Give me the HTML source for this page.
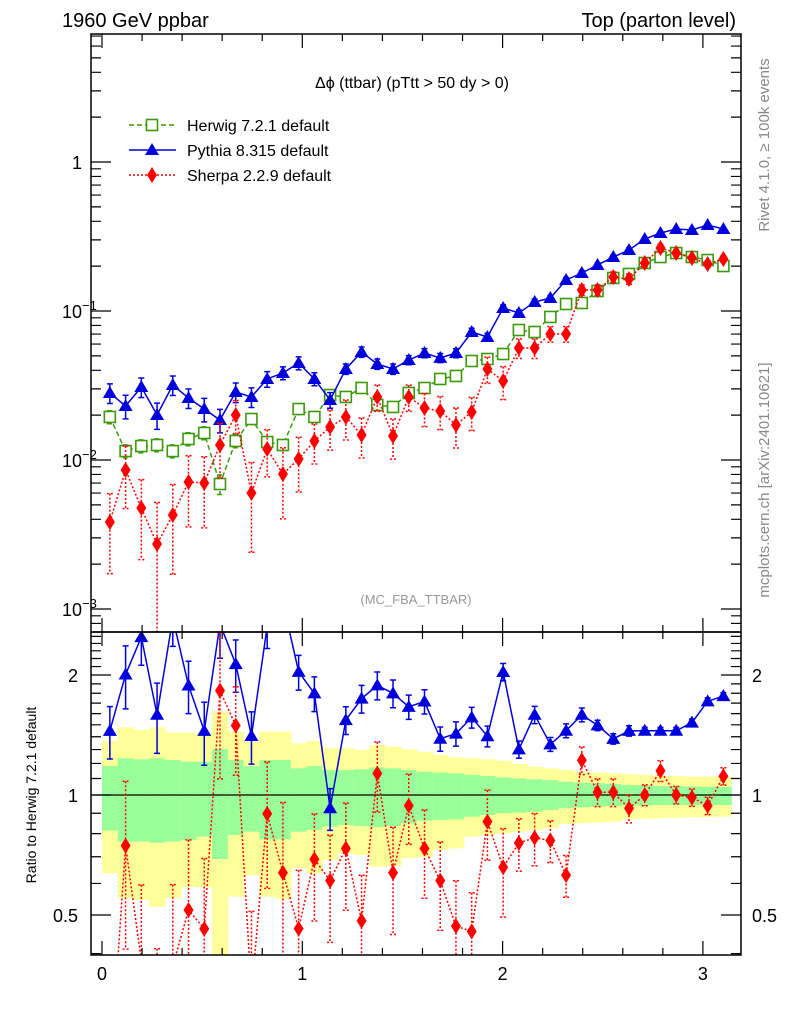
<!DOCTYPE html>
<html><head><meta charset="utf-8"><style>
html,body{margin:0;padding:0;background:#fff;overflow:hidden;width:786px;height:1024px;}
svg{display:block;font-family:"Liberation Sans",sans-serif;}
</style></head><body>
<svg id="chart" width="786" height="1024" viewBox="0 0 786 1024" xmlns="http://www.w3.org/2000/svg">
<defs>
<clipPath id="cm"><rect x="91" y="34" width="650" height="598"/></clipPath>
<clipPath id="cr"><rect x="91" y="632" width="650" height="323"/></clipPath>
</defs>
<text x="62" y="27" font-size="20">1960 GeV ppbar</text>
<text x="736" y="27" font-size="20" text-anchor="end">Top (parton level)</text>
<text x="412" y="88" font-size="16" text-anchor="middle">Δϕ (ttbar) (pTtt &gt; 50 dy &gt; 0)</text>
<text transform="translate(769,145) rotate(-90)" font-size="15" fill="#888" text-anchor="middle">Rivet 4.1.0, ≥ 100k events</text>
<text transform="translate(769,480) rotate(-90)" font-size="15" fill="#888" text-anchor="middle">mcplots.cern.ch [arXiv:2401.10621]</text>
<text x="416" y="604" font-size="13" fill="#999" text-anchor="middle">(MC_FBA_TTBAR)</text>
<text transform="translate(36,795) rotate(-90)" font-size="14" text-anchor="middle">Ratio to Herwig 7.2.1 default</text>
<g id="ratio-bands" clip-path="url(#cr)"></g>
<g id="main-marks" clip-path="url(#cm)"></g>
<g id="ratio-marks" clip-path="url(#cr)"></g>
<g id="axes"></g>
<g id="legend"></g>
</svg>
<script>
const herwig=[0.01945,0.01148,0.01241,0.01261,0.01148,0.01384,0.01518,0.0069,0.01342,0.01884,0.01321,0.01261,0.02198,0.01945,0.0273,0.02649,0.03043,0.02339,0.0227,0.02818,0.03043,0.03498,0.03664,0.04618,0.04763,0.05144,0.07455,0.07228,0.0912,0.1114,0.1132,0.1362,0.1665,0.1772,0.21,0.2303,0.2449,0.2303,0.2198,0.2004];
const pythia=[0.02818,0.02303,0.0309,0.02005,0.03187,0.02606,0.02198,0.01854,0.02858,0.02649,0.03498,0.03837,0.04477,0.03498,0.02529,0.04083,0.05309,0.04406,0.04083,0.0469,0.05224,0.04842,0.05224,0.07228,0.0669,0.1047,0.097,0.1149,0.1222,0.1615,0.1799,0.2037,0.2303,0.2566,0.3043,0.3338,0.3549,0.3499,0.3776,0.3549];
const sherpa=[0.003837,0.00857,0.004764,0.00273,0.004276,0.00712,0.00701,0.01261,0.02005,0.00601,0.01185,0.00805,0.01016,0.01342,0.01665,0.01945,0.01472,0.02649,0.01449,0.02649,0.02234,0.02133,0.01718,0.021,0.04083,0.03388,0.05648,0.05648,0.07012,0.07012,0.1384,0.1384,0.1692,0.164,0.21,0.2649,0.2449,0.227,0.2066,0.2234];
const herwigErr=[0.1,0.1,0.1,0.1,0.1,0.1,0.1,0.15,0.1,0.08,0.08,0.08,0.08,0.07,0.06,0.06,0.05,0.06,0.06,0.05,0.05,0.05,0.05,0.04,0.04,0.04,0.04,0.04,0.03,0.03,0.03,0.03,0.02,0.02,0.02,0.02,0.02,0.02,0.02,0.02];
const pythiaErr=[0.15,0.18,0.15,0.2,0.15,0.15,0.18,0.18,0.15,0.15,0.12,0.1,0.1,0.1,0.12,0.08,0.08,0.08,0.08,0.07,0.07,0.07,0.07,0.06,0.06,0.05,0.05,0.05,0.04,0.04,0.04,0.03,0.03,0.03,0.02,0.02,0.02,0.02,0.02,0.02];
const sherpaErr=[0.55,0.45,0.55,0.9,0.6,0.5,0.5,0.4,0.25,0.6,0.35,0.5,0.4,0.3,0.3,0.3,0.3,0.2,0.3,0.2,0.25,0.25,0.3,0.25,0.2,0.25,0.15,0.15,0.12,0.12,0.08,0.08,0.08,0.08,0.06,0.06,0.05,0.05,0.05,0.05];
const greenUp=[1.182,1.236,1.229,1.236,1.224,1.212,1.212,1.304,1.224,1.182,1.224,1.224,1.167,1.182,1.155,1.155,1.160,1.173,1.166,1.155,1.144,1.138,1.133,1.123,1.116,1.107,1.101,1.095,1.090,1.080,1.074,1.070,1.066,1.060,1.058,1.053,1.053,1.050,1.049,1.049];
const greenDn=[0.814,0.764,0.764,0.759,0.764,0.771,0.786,0.691,0.794,0.809,0.774,0.774,0.809,0.817,0.833,0.841,0.836,0.830,0.836,0.849,0.862,0.866,0.869,0.882,0.891,0.900,0.903,0.908,0.917,0.926,0.931,0.935,0.938,0.940,0.942,0.944,0.944,0.944,0.944,0.944];
const yellowUp=[1.366,1.479,1.456,1.479,1.433,1.433,1.433,1.618,1.442,1.36,1.442,1.442,1.348,1.366,1.31,1.31,1.297,1.335,1.322,1.302,1.284,1.26,1.243,1.236,1.229,1.219,1.196,1.178,1.166,1.155,1.144,1.138,1.133,1.127,1.123,1.118,1.116,1.112,1.112,1.112];
const yellowDn=[0.636,0.551,0.545,0.524,0.551,0.587,0.587,0.38,0.556,0.630,0.556,0.548,0.655,0.636,0.687,0.714,0.707,0.661,0.663,0.694,0.700,0.728,0.735,0.786,0.794,0.801,0.809,0.817,0.825,0.846,0.849,0.852,0.857,0.869,0.872,0.874,0.877,0.879,0.881,0.882];
const xTickLabels=["0","1","2","3"];
const mainTickLabels=[[1,"1"],[0.1,"10"],[0.01,"10"],[0.001,"10"]];
const mainTickExps=["","−1","−2","−3"];
const ratioTickLabels=[[0.5,"0.5"],[1,"1"],[2,"2"]];

const NS="http://www.w3.org/2000/svg";
const L=91,R=741,T=34,MID=632,B=955;
const NB=40,BW=Math.PI/NB;
function X(v){return 102+v*200.3;}
function Ym(v){return 162-149*Math.log10(v);}
function Yr(v){return 795-398.6*Math.log10(v);}
function mk(tag,attrs,parent){const e=document.createElementNS(NS,tag);for(const k in attrs)e.setAttribute(k,attrs[k]);parent.appendChild(e);return e;}
const gMain=document.getElementById('main-marks'),gRat=document.getElementById('ratio-marks'),gBand=document.getElementById('ratio-bands'),gAx=document.getElementById('axes'),gLeg=document.getElementById('legend');

for(let i=0;i<NB;i++){
  const x0=X(i*BW),x1=X((i+1)*BW);
  let r=mk('rect',{x:x0,y:Yr(yellowUp[i]),width:x1-x0+0.5,height:Yr(yellowDn[i])-Yr(yellowUp[i]),fill:'#ffff99'},gBand);
  
  
  r=mk('rect',{x:x0,y:Yr(greenUp[i]),width:x1-x0+0.5,height:Yr(greenDn[i])-Yr(greenUp[i]),fill:'#99ff99'},gBand);
  
  
}
const unity=mk('line',{x1:L,x2:R,y1:Yr(1),y2:Yr(1),stroke:'#000','stroke-width':1.2},gBand);



function marker(kind,cx,cy,col,g){
  let m;
  if(kind==='sq') m=mk('rect',{x:cx-5.5,y:cy-5.5,width:11,height:11,fill:'#fff',stroke:col,'stroke-width':1.6},g);
  else if(kind==='tri') m=mk('polygon',{points:`${cx},${cy-7} ${cx-7},${cy+5} ${cx+7},${cy+5}`,fill:col},g);
  else m=mk('polygon',{points:`${cx},${cy-8} ${cx-5},${cy} ${cx},${cy+8} ${cx+5},${cy}`,fill:col},g);
  return m;
}
function series(name,vals,errs,col,dash,kind,g,Yf,norm){
  const sg=mk('g',{},g);
  
  
  const pts=[];
  for(let i=0;i<NB;i++){
    const v=norm?vals[i]/norm[i]:vals[i];
    const cx=X((i+0.5)*BW),cy=Yf(v);pts.push(cx+','+cy);
    const lo=Math.max(v*(1-errs[i]),1e-5),hi=v*(1+errs[i]);
    const e=mk('path',{d:`M${cx},${Yf(hi)}V${Yf(lo)}M${cx-3},${Yf(hi)}h6M${cx-3},${Yf(lo)}h6`,stroke:col,'stroke-width':1.5,fill:'none','stroke-dasharray':dash},sg);
    
    
  }
  const pl=mk('polyline',{points:pts.join(' '),fill:'none',stroke:col,'stroke-width':1.5,'stroke-dasharray':dash},sg);
  
  
  for(let i=0;i<NB;i++){
    const v=norm?vals[i]/norm[i]:vals[i];
    const m=marker(kind,X((i+0.5)*BW),Yf(v),col,sg);
    
    
  }
}
const GC='#3a9a0a',BC='#0000dd',RC='#ff0000';
series('herwig',herwig,herwigErr,GC,'5,3','sq',gMain,Ym,null);
series('pythia',pythia,pythiaErr,BC,'','tri',gMain,Ym,null);
series('sherpa',sherpa,sherpaErr,RC,'2,2','dia',gMain,Ym,null);
series('pythia-ratio',pythia,pythiaErr,BC,'','tri',gRat,Yr,herwig);
series('sherpa-ratio',sherpa,sherpaErr,RC,'2,2','dia',gRat,Yr,herwig);

for(const [y0,y1,n] of [[T,MID,'main-frame'],[MID,B,'ratio-frame']]){
  const f=mk('rect',{x:L,y:y0,width:R-L,height:y1-y0,fill:'none',stroke:'#000','stroke-width':1.5},gAx);
  
  
}
let d='';
for(let k=0;k<=16;k++){const v=k*0.2;const x=X(v);if(x>R)break;const len=(k%5===0)?14:7;
  d+=`M${x},${B}v${-len}M${x},${MID}v${len}M${x},${MID}v${-len}M${x},${T}v${len}`;}
for(let e=-4;e<=1;e++)for(let m=1;m<=9;m++){const v=m*Math.pow(10,e);const y=Ym(v);if(y<T||y>MID)continue;const len=m===1?20:10;
  d+=`M${L},${y}h${len}M${R},${y}h${-len}`;}
for(let k=4;k<=25;k++){const v=k/10;const y=Yr(v);if(y<MID||y>B)continue;const len=(k===5||k===10||k===20)?20:10;
  d+=`M${L},${y}h${len}M${R},${y}h${-len}`;}
const tp=mk('path',{d:d,stroke:'#000','stroke-width':1.2,fill:'none'},gAx);


xTickLabels.forEach((t,i)=>{const tx=mk('text',{x:X(+t),y:980,'font-size':18,'text-anchor':'middle'},gAx);tx.textContent=t;
  
  });
mainTickLabels.forEach((p,i)=>{const tx=mk('text',{x:i===0?82:62,y:Ym(p[0])+7,'font-size':18,'text-anchor':i===0?'end':'start'},gAx);tx.textContent=p[1];
  if(mainTickExps[i]){const s=mk('tspan',{dy:-8,'font-size':13},tx);s.textContent=mainTickExps[i];}
  
  });
ratioTickLabels.forEach(p=>{for(const side of [0,1]){const tx=mk('text',{x:side?752:78,y:Yr(p[0])+7,'font-size':18,'text-anchor':side?'start':'end'},gAx);tx.textContent=p[1];
  
  }});
const legItems=[['Herwig 7.2.1 default',GC,'5,3','sq'],['Pythia 8.315 default',BC,'','tri'],['Sherpa 2.2.9 default',RC,'2,2','dia']];
legItems.forEach((it,i)=>{const y=125+i*25;const g=mk('g',{},gLeg);
  
  
  mk('line',{x1:129,x2:176,y1:y,y2:y,stroke:it[1],'stroke-width':1.5,'stroke-dasharray':it[2]},g);
  marker(it[3],152,y,it[1],g);
  const t=mk('text',{x:187,y:y+6,'font-size':16},g);t.textContent=it[0];});
</script>
</body></html>
